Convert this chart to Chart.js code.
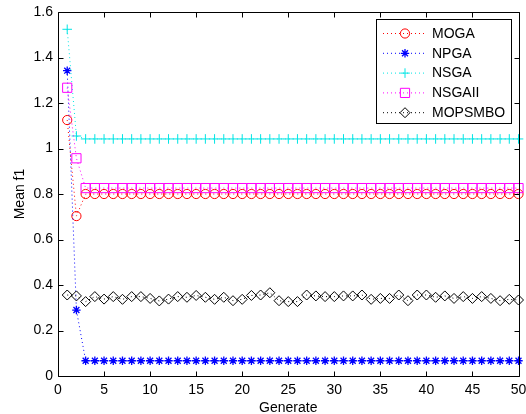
<!DOCTYPE html>
<html>
<head>
<meta charset="utf-8">
<script src="https://cdn.jsdelivr.net/npm/chart.js@4/dist/chart.umd.min.js"></script>
<style>
  html, body { margin: 0; padding: 0; background: #fff; }
  #wrap { width: 526px; height: 414px; position: relative; }
</style>
</head>
<body>
<div id="wrap"><canvas id="plot" width="526" height="414"></canvas></div>
<script>
// ─── DATA ────────────────────────────────────────────
const generations = [
  1, 2, 3, 4, 5, 6, 7, 8, 9, 10,
  11, 12, 13, 14, 15, 16, 17, 18, 19, 20,
  21, 22, 23, 24, 25, 26, 27, 28, 29, 30,
  31, 32, 33, 34, 35, 36, 37, 38, 39, 40,
  41, 42, 43, 44, 45, 46, 47, 48, 49, 50
];

const mogaMean = [
  1.125, 0.703, 0.800, 0.800, 0.800, 0.800, 0.800, 0.800, 0.800, 0.800,
  0.800, 0.800, 0.800, 0.800, 0.800, 0.800, 0.800, 0.800, 0.800, 0.800,
  0.800, 0.800, 0.800, 0.800, 0.800, 0.800, 0.800, 0.800, 0.800, 0.800,
  0.800, 0.800, 0.800, 0.800, 0.800, 0.800, 0.800, 0.800, 0.800, 0.800,
  0.800, 0.800, 0.800, 0.800, 0.800, 0.800, 0.800, 0.800, 0.800, 0.800
];

const npgaMean = [
  1.342, 0.290, 0.067, 0.067, 0.067, 0.067, 0.067, 0.067, 0.067, 0.067,
  0.067, 0.067, 0.067, 0.067, 0.067, 0.067, 0.067, 0.067, 0.067, 0.067,
  0.067, 0.067, 0.067, 0.067, 0.067, 0.067, 0.067, 0.067, 0.067, 0.067,
  0.067, 0.067, 0.067, 0.067, 0.067, 0.067, 0.067, 0.067, 0.067, 0.067,
  0.067, 0.067, 0.067, 0.067, 0.067, 0.067, 0.067, 0.067, 0.067, 0.067
];

const nsgaMean = [
  1.524, 1.055, 1.042, 1.042, 1.042, 1.042, 1.042, 1.042, 1.042, 1.042,
  1.042, 1.042, 1.042, 1.042, 1.042, 1.042, 1.042, 1.042, 1.042, 1.042,
  1.042, 1.042, 1.042, 1.042, 1.042, 1.042, 1.042, 1.042, 1.042, 1.042,
  1.042, 1.042, 1.042, 1.042, 1.042, 1.042, 1.042, 1.042, 1.042, 1.042,
  1.042, 1.042, 1.042, 1.042, 1.042, 1.042, 1.042, 1.042, 1.042, 1.042
];

const nsga2Mean = [
  1.267, 0.957, 0.826, 0.826, 0.826, 0.826, 0.826, 0.826, 0.826, 0.826,
  0.826, 0.826, 0.826, 0.826, 0.826, 0.826, 0.826, 0.826, 0.826, 0.826,
  0.826, 0.826, 0.826, 0.826, 0.826, 0.826, 0.826, 0.826, 0.826, 0.826,
  0.826, 0.826, 0.826, 0.826, 0.826, 0.826, 0.826, 0.826, 0.826, 0.826,
  0.826, 0.826, 0.826, 0.826, 0.826, 0.826, 0.826, 0.826, 0.826, 0.826
];

const mopsmboMean = [
  0.356, 0.352, 0.327, 0.349, 0.338, 0.349, 0.337, 0.349, 0.349, 0.341,
  0.330, 0.338, 0.349, 0.346, 0.354, 0.346, 0.337, 0.346, 0.331, 0.337,
  0.354, 0.356, 0.366, 0.331, 0.327, 0.327, 0.356, 0.352, 0.349, 0.349,
  0.352, 0.352, 0.356, 0.337, 0.341, 0.341, 0.356, 0.331, 0.356, 0.356,
  0.346, 0.352, 0.341, 0.349, 0.341, 0.349, 0.341, 0.331, 0.337, 0.334
];

const xTicks = [0, 5, 10, 15, 20, 25, 30, 35, 40, 45, 50];
const yTicks = [0, 0.2, 0.4, 0.6, 0.8, 1, 1.2, 1.4, 1.6];
const yTickLabels = ['0', '0.2', '0.4', '0.6', '0.8', '1', '1.2', '1.4', '1.6'];

// ─── SERIES STYLE ────────────────────────────────────
const FONT = '"Liberation Sans", Arial, Helvetica, sans-serif';
Chart.defaults.font.family = FONT;
Chart.defaults.color = '#000';

const series = [
  { label: 'MOGA',    data: mogaMean,    color: '#ff0000', style: 'circle',  radius: 4.6, width: 1 },
  { label: 'NPGA',    data: npgaMean,    color: '#0000ff', style: 'star',    radius: 4.2, width: 1.3 },
  { label: 'NSGA',    data: nsgaMean,    color: '#00e5e5', style: 'cross',   radius: 4.8, width: 1 },
  { label: 'NSGAII',  data: nsga2Mean,   color: '#ff00ff', style: 'rect',    radius: 6.5, width: 1 },
  { label: 'MOPSMBO', data: mopsmboMean, color: '#000000', style: 'rectRot', radius: 5,   width: 1 }
];

function toPoints(values) {
  return values.map((v, i) => ({ x: generations[i], y: v }));
}

const datasets = series.map((s, i) => ({
  label: s.label,
  data: toPoints(s.data),
  borderColor: s.color,
  backgroundColor: 'rgba(0,0,0,0)',
  borderWidth: 1,
  borderDash: [1, 3],
  pointStyle: s.style,
  pointRadius: s.radius,
  pointBorderWidth: s.width,
  pointBorderColor: s.color,
  pointBackgroundColor: 'rgba(0,0,0,0)',
  tension: 0,
  clip: false,
  order: series.length - i
}));

// ─── FRAME + INWARD TICKS ────────────────────────────
const framePlugin = {
  id: 'frame',
  afterDraw(chart) {
    const { ctx, chartArea: a, scales } = chart;
    const L = Math.round(a.left) + 0.5, R = Math.round(a.right) + 0.5;
    const T = Math.round(a.top) + 0.5, B = Math.round(a.bottom) + 0.5;
    const len = 5;
    ctx.save();
    ctx.strokeStyle = '#000';
    ctx.lineWidth = 1;
    ctx.beginPath();
    ctx.rect(L, T, R - L, B - T);
    xTicks.forEach(v => {
      const px = Math.round(scales.x.getPixelForValue(v)) + 0.5;
      ctx.moveTo(px, B); ctx.lineTo(px, B - len);
      ctx.moveTo(px, T); ctx.lineTo(px, T + len);
    });
    yTicks.forEach(v => {
      const py = Math.round(scales.y.getPixelForValue(v)) + 0.5;
      ctx.moveTo(L, py); ctx.lineTo(L + len, py);
      ctx.moveTo(R, py); ctx.lineTo(R - len, py);
    });
    ctx.stroke();
    ctx.restore();
  }
};

// ─── LEGEND BOX ──────────────────────────────────────
const legendBox = { left: 376.5, top: 19.5, width: 135, height: 104 };

const legendPlugin = {
  id: 'boxLegend',
  afterDraw(chart) {
    const { ctx } = chart;
    const b = legendBox;
    ctx.save();
    ctx.fillStyle = '#fff';
    ctx.fillRect(b.left, b.top, b.width, b.height);
    ctx.strokeStyle = '#000';
    ctx.lineWidth = 1;
    ctx.strokeRect(b.left, b.top, b.width, b.height);

    ctx.font = '14px ' + FONT;
    ctx.textBaseline = 'middle';
    ctx.textAlign = 'left';
    series.forEach((s, i) => {
      const y = 33.5 + i * 19.8;
      ctx.strokeStyle = s.color;
      ctx.lineWidth = 1;
      ctx.setLineDash([1, 3]);
      ctx.beginPath();
      ctx.moveTo(383, y);
      ctx.lineTo(426, y);
      ctx.stroke();
      ctx.setLineDash([]);
      ctx.fillStyle = 'rgba(0,0,0,0)';
      ctx.lineWidth = s.width;
      Chart.helpers.drawPoint(ctx, {
        pointStyle: s.style, radius: s.radius, rotation: 0, borderWidth: s.width
      }, 405, y);
      ctx.fillStyle = '#000';
      ctx.fillText(s.label, 432, y + 0.5);
    });
    ctx.restore();
  }
};

// ─── CHART ───────────────────────────────────────────
new Chart(document.getElementById('plot'), {
  type: 'line',
  data: { datasets },
  plugins: [framePlugin, legendPlugin],
  options: {
    responsive: false,
    animation: false,
    devicePixelRatio: 1,
    layout: { padding: { left: 0, top: 12, right: 5, bottom: 0 } },
    plugins: {
      legend: { display: false },
      tooltip: { enabled: false }
    },
    scales: {
      x: {
        type: 'linear',
        min: 0,
        max: 50,
        afterBuildTicks: scale => { scale.ticks = xTicks.map(v => ({ value: v })); },
        afterFit: scale => {
          // let the last label run past the canvas edge instead of shrinking the plot
          scale.height = 38;
          scale.paddingLeft = 0;
          scale.paddingRight = 0;
        },
        grid: { display: false, drawTicks: false },
        border: { display: false },
        ticks: { padding: 6, maxRotation: 0, autoSkip: false, font: { size: 14 }, color: '#000' },
        title: { display: true, text: 'Generate', font: { size: 14 }, color: '#000', padding: { top: 0, bottom: -3 } }
      },
      y: {
        type: 'linear',
        min: 0,
        max: 1.6,
        afterBuildTicks: scale => { scale.ticks = yTicks.map(v => ({ value: v })); },
        afterFit: scale => {
          scale.width = 58;
          scale.paddingTop = 0;
          scale.paddingBottom = 0;
        },
        grid: { display: false, drawTicks: false },
        border: { display: false },
        ticks: {
          padding: 5,
          autoSkip: false,
          font: { size: 14 },
          color: '#000',
          callback: (v, i) => yTickLabels[i]
        },
        title: { display: true, text: 'Mean f1', font: { size: 14 }, color: '#000', padding: { top: 12, bottom: 0 } }
      }
    }
  }
});
</script>
</body>
</html>
